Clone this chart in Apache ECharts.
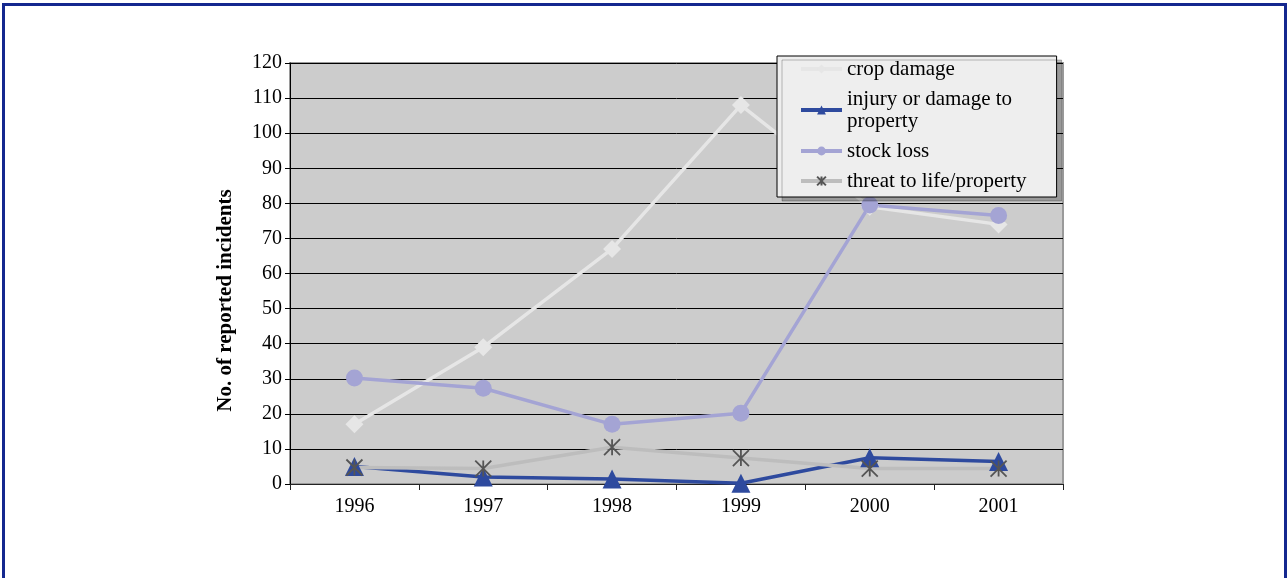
<!DOCTYPE html>
<html lang="en">
<head>
    <meta charset="UTF-8">
    <title>Reported incidents</title>
    <style>
        html,body{
            margin: 0;
            padding: 0;
            width: 100%;
            height: 100%;
            background: #fff;
        }
        #frame{
            position: absolute;
            left: 2px;
            top: 3px;
            width: 1279px;
            height: 600px;
            border: 3px solid #14288f;
        }
        #chartmain{
            position: absolute;
            left: 0;
            top: 0;
            width: 1287px;
            height: 578px;
        }
    </style>
</head>
<body>
<div id="frame"></div>
<div id="chartmain"></div>

<script src="https://cdn.jsdelivr.net/npm/echarts@6/dist/echarts.min.js"></script>
<script type="text/javascript">
    // data
    var years = ['1996', '1997', '1998', '1999', '2000', '2001'];
    var cropDamage = [17, 39, 67, 108, 79, 74];
    var injury = [5, 2, 1.4, 0.2, 7.5, 6.4];
    var stockLoss = [30.2, 27.3, 17, 20.2, 79.5, 76.5];
    var threat = [4.7, 4.4, 10.5, 7.4, 4.4, 4.4];
    var yTicks = [0, 120, 10]; // min, max, interval

    var serif = "'Liberation Serif', 'Times New Roman', serif";

    var option = {
        animation: false,
        textStyle: { fontFamily: serif },
        grid: {
            left: 290,
            right: 224,
            top: 63,
            bottom: 94,
            show: true,
            backgroundColor: '#cccccc',
            borderColor: '#9a9a9a',
            borderWidth: 2
        },
        legend: {
            orient: 'vertical',
            left: 777,
            top: 56,
            padding: [2, 30, 5, 22],
            itemGap: 8,
            itemWidth: 41,
            itemHeight: 11,
            backgroundColor: '#eeeeee',
            borderColor: '#000',
            borderWidth: 1,
            shadowColor: 'rgba(0,0,0,0.25)',
            shadowOffsetX: 5,
            shadowOffsetY: 4,
            shadowBlur: 0,
            lineStyle: { width: 4 },
            textStyle: {
                fontFamily: serif,
                fontSize: 21,
                color: '#000',
                lineHeight: 22
            },
            formatter: function (name) {
                if (name === 'injury or damage to property') {
                    return 'injury or damage to\nproperty';
                }
                return name;
            },
            data: ['crop damage', 'injury or damage to property', 'stock loss', 'threat to life/property']
        },
        xAxis: {
            type: 'category',
            data: years,
            boundaryGap: true,
            axisLine: { lineStyle: { color: '#222', width: 1 } },
            axisTick: { show: true, length: 6, lineStyle: { color: '#222' } },
            axisLabel: { fontFamily: serif, fontSize: 20, color: '#000', margin: 13 },
            splitLine: { show: false }
        },
        yAxis: {
            type: 'value',
            min: yTicks[0],
            max: yTicks[1],
            interval: yTicks[2],
            name: 'No. of reported incidents',
            nameLocation: 'middle',
            nameGap: 54,
            nameTextStyle: {
                fontFamily: serif,
                fontSize: 21,
                fontWeight: 'bold',
                color: '#000',
                padding: [0, 54, 0, 0]
            },
            axisLine: { show: true, lineStyle: { color: '#000', width: 1 } },
            axisTick: { show: true, length: 5, lineStyle: { color: '#000' } },
            axisLabel: { fontFamily: serif, fontSize: 20, color: '#000', margin: 8 },
            splitLine: { show: true, lineStyle: { color: '#000', width: 1 } }
        },
        series: [
            {
                name: 'crop damage',
                type: 'line',
                data: cropDamage,
                symbol: 'diamond',
                symbolSize: 18,
                lineStyle: { color: '#e6e6e6', width: 3.5 },
                itemStyle: { color: '#e6e6e6' }
            },
            {
                name: 'injury or damage to property',
                type: 'line',
                data: injury,
                symbol: 'triangle',
                symbolSize: 19,
                lineStyle: { color: '#2e4a9e', width: 3.5 },
                itemStyle: { color: '#2e4a9e' }
            },
            {
                name: 'stock loss',
                type: 'line',
                data: stockLoss,
                symbol: 'circle',
                symbolSize: 17,
                lineStyle: { color: '#a4a4d4', width: 3.5 },
                itemStyle: { color: '#a4a4d4' }
            },
            {
                name: 'threat to life/property',
                type: 'line',
                data: threat,
                symbol: 'path://M0,0L10,10M10,0L0,10M5,0L5,10',
                symbolSize: 16,
                lineStyle: { color: '#bdbdbd', width: 3.5 },
                itemStyle: { color: 'none', borderColor: '#555555', borderWidth: 1.8 }
            }
        ]
    };

    var myChart = echarts.init(document.getElementById('chartmain'), null, { renderer: 'canvas' });
    myChart.setOption(option);
</script>
</body>
</html>
